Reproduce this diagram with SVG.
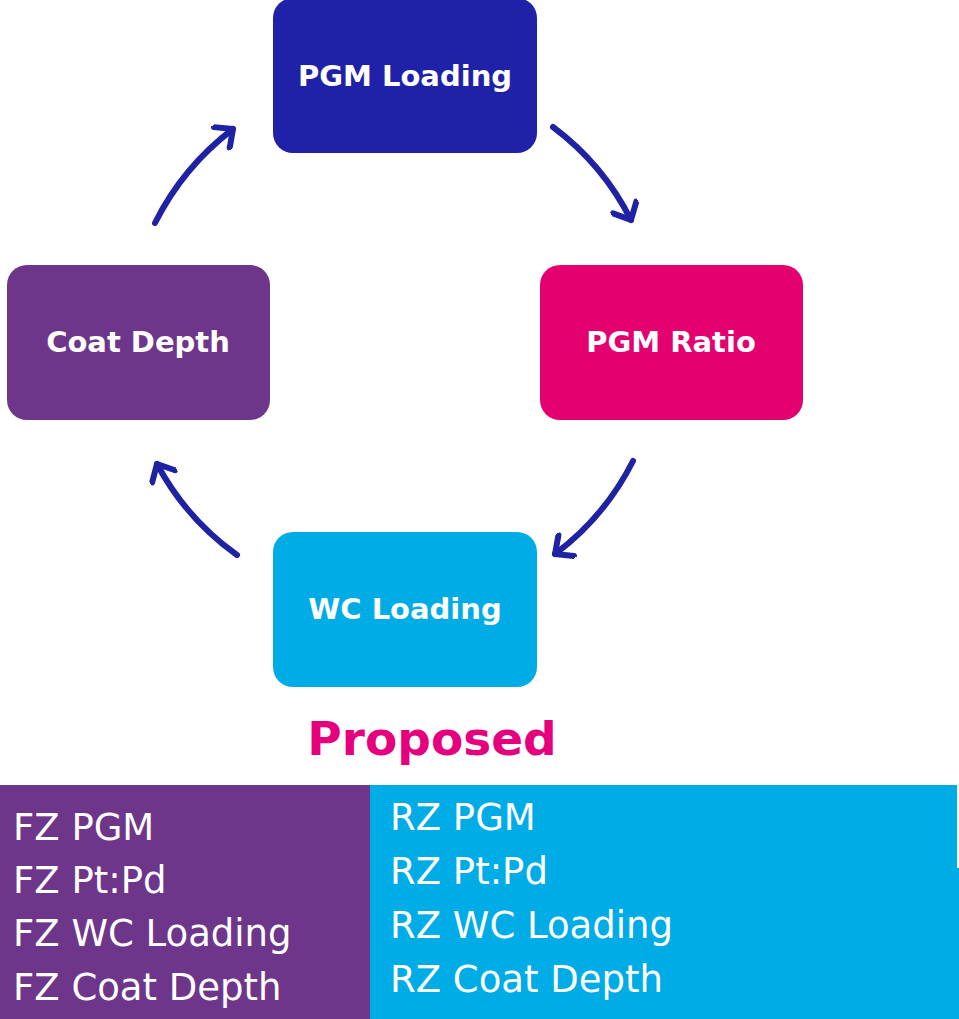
<svg xmlns="http://www.w3.org/2000/svg" width="959" height="1019" viewBox="0 0 959 1019">
  <style>
    .node-label { font-family: "DejaVu Sans", Verdana, sans-serif; font-weight: bold; font-size: 29px; fill: #ffffff; text-anchor: middle; }
    .list { font-family: "DejaVu Sans", Verdana, sans-serif; font-size: 37px; fill: #ffffff; }
    .title { font-family: "DejaVu Sans", Verdana, sans-serif; font-weight: bold; font-size: 47px; fill: #E5007D; text-anchor: middle; }
    .conn { fill: none; stroke: #1E22A3; stroke-width: 6; stroke-linecap: round; marker-end: url(#arrow); }
  </style>
  <defs>
    <marker id="arrow" viewBox="0 0 30 30" markerWidth="30" markerHeight="30" refX="22" refY="15" orient="auto" markerUnits="userSpaceOnUse">
      <path d="M8,2 L22,15 L8,28" fill="none" stroke="#1E22A3" stroke-width="6" stroke-linecap="round" stroke-linejoin="round"/>
    </marker>
  </defs>
  <rect x="0" y="0" width="959" height="1019" fill="#ffffff"/>

  <g id="node-pgm-loading">
    <rect x="273" y="-2" width="264" height="155" rx="20" fill="#1F22A8"/>
    <text class="node-label" x="405" y="86">PGM Loading</text>
  </g>
  <g id="node-pgm-ratio">
    <rect x="540" y="265" width="263" height="155" rx="20" fill="#E4006F"/>
    <text class="node-label" x="671" y="352">PGM Ratio</text>
  </g>
  <g id="node-wc-loading">
    <rect x="273" y="532" width="264" height="155" rx="20" fill="#00ACE6"/>
    <text class="node-label" x="405" y="619">WC Loading</text>
  </g>
  <g id="node-coat-depth">
    <rect x="7" y="265" width="263" height="155" rx="20" fill="#6E368B"/>
    <text class="node-label" x="138" y="352">Coat Depth</text>
  </g>

  <g id="connectors">
    <path class="conn" d="M155,223 A 270 270 0 0 1 233,129"/>
    <path class="conn" d="M553,127 A 265 265 0 0 1 631,220"/>
    <path class="conn" d="M633,461 A 265 265 0 0 1 555,554"/>
    <path class="conn" d="M237,555 A 265 265 0 0 1 157,464"/>
  </g>

  <text class="title" x="432" y="755">Proposed</text>

  <g id="panel-fz">
    <rect x="0" y="785" width="370" height="234" fill="#6E368B"/>
    <text class="list" x="13" y="840">FZ PGM</text>
    <text class="list" x="13" y="893">FZ Pt:Pd</text>
    <text class="list" x="13" y="946">FZ WC Loading</text>
    <text class="list" x="13" y="1000">FZ Coat Depth</text>
  </g>
  <g id="panel-rz">
    <rect x="370" y="785" width="589" height="234" fill="#00ACE6"/>
    <rect x="957" y="785" width="2" height="83" fill="#ffffff"/>
    <text class="list" x="390" y="830">RZ PGM</text>
    <text class="list" x="390" y="884">RZ Pt:Pd</text>
    <text class="list" x="390" y="938">RZ WC Loading</text>
    <text class="list" x="390" y="992">RZ Coat Depth</text>
  </g>
</svg>
